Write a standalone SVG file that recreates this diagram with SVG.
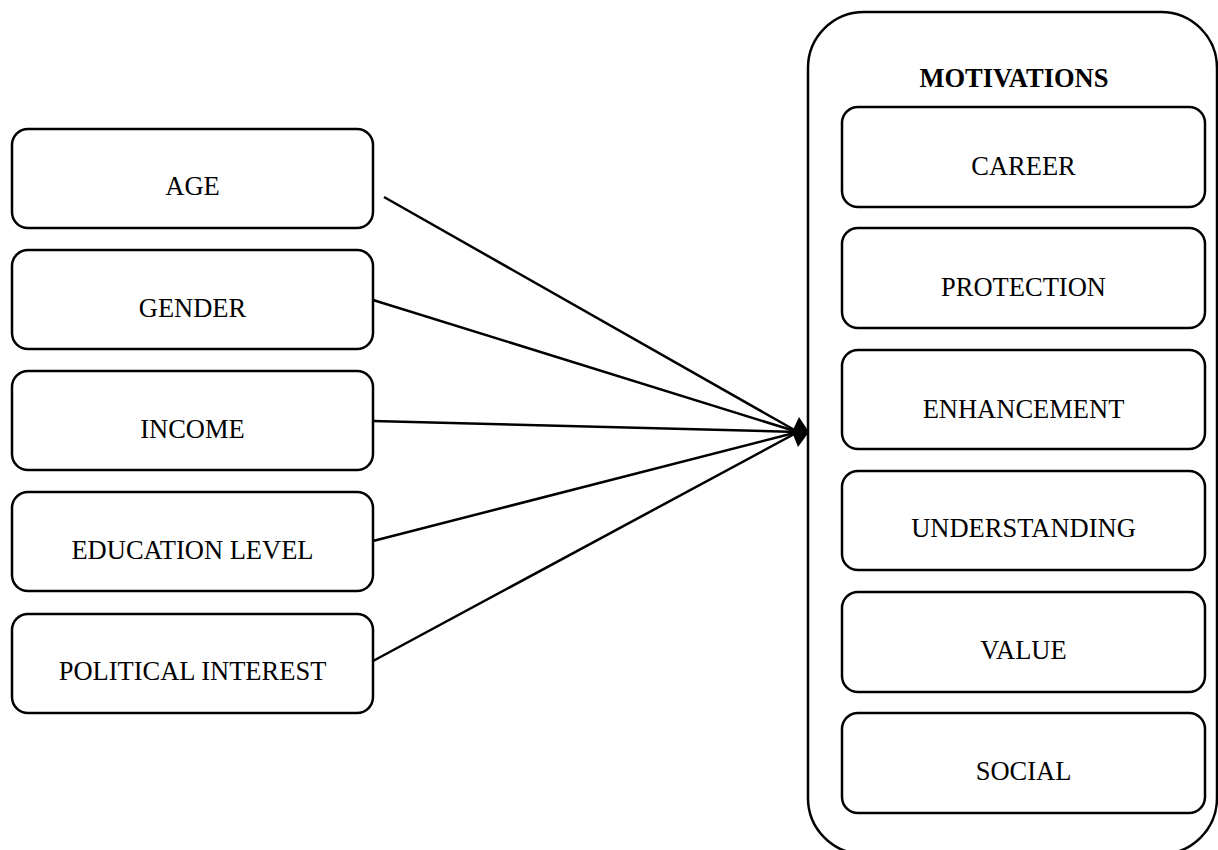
<svg xmlns="http://www.w3.org/2000/svg" width="1218" height="850" viewBox="0 0 1218 850">
<style>
.box{fill:#fff;stroke:#000;stroke-width:2.5}
.lbl{font-family:"Liberation Serif","Times New Roman",serif;font-size:26.5px;fill:#000;text-anchor:middle}
.ttl{font-weight:bold}
.con{stroke:#000;stroke-width:2.5;fill:none}
</style>
<rect width="1218" height="850" fill="#fff"/>
<g id="motivations">
<rect class="box" x="808" y="12" width="409" height="842" rx="56"/>
<text class="lbl ttl" x="1014" y="87">MOTIVATIONS</text>
</g>
<g id="age"><rect class="box" x="12" y="129" width="361" height="99" rx="16"/><text class="lbl" x="192.5" y="195">AGE</text></g>
<g id="gender"><rect class="box" x="12" y="250" width="361" height="99" rx="16"/><text class="lbl" x="192.5" y="317">GENDER</text></g>
<g id="income"><rect class="box" x="12" y="371" width="361" height="99" rx="16"/><text class="lbl" x="192.5" y="438">INCOME</text></g>
<g id="education"><rect class="box" x="12" y="492" width="361" height="99" rx="16"/><text class="lbl" x="192.5" y="559">EDUCATION LEVEL</text></g>
<g id="political"><rect class="box" x="12" y="614" width="361" height="99" rx="16"/><text class="lbl" x="192.5" y="680">POLITICAL INTEREST</text></g>
<g id="career"><rect class="box" x="842" y="107" width="363" height="100" rx="16"/><text class="lbl" x="1023.5" y="175">CAREER</text></g>
<g id="protection"><rect class="box" x="842" y="228" width="363" height="100" rx="16"/><text class="lbl" x="1023.5" y="296">PROTECTION</text></g>
<g id="enhancement"><rect class="box" x="842" y="350" width="363" height="99" rx="16"/><text class="lbl" x="1023.5" y="418">ENHANCEMENT</text></g>
<g id="understanding"><rect class="box" x="842" y="471" width="363" height="99" rx="16"/><text class="lbl" x="1023.5" y="537">UNDERSTANDING</text></g>
<g id="value"><rect class="box" x="842" y="592" width="363" height="100" rx="16"/><text class="lbl" x="1023.5" y="659">VALUE</text></g>
<g id="social"><rect class="box" x="842" y="713" width="363" height="100" rx="16"/><text class="lbl" x="1023.5" y="780">SOCIAL</text></g>
<g id="connectors">
<line class="con" x1="384" y1="197" x2="798" y2="432"/>
<line class="con" x1="373" y1="300" x2="798" y2="432"/>
<line class="con" x1="373" y1="421" x2="798" y2="432"/>
<line class="con" x1="373" y1="541" x2="798" y2="432"/>
<line class="con" x1="373" y1="661" x2="798" y2="432"/>
<polygon points="809,432 799,417 792,432 798,447" fill="#000"/>
</g>
</svg>
